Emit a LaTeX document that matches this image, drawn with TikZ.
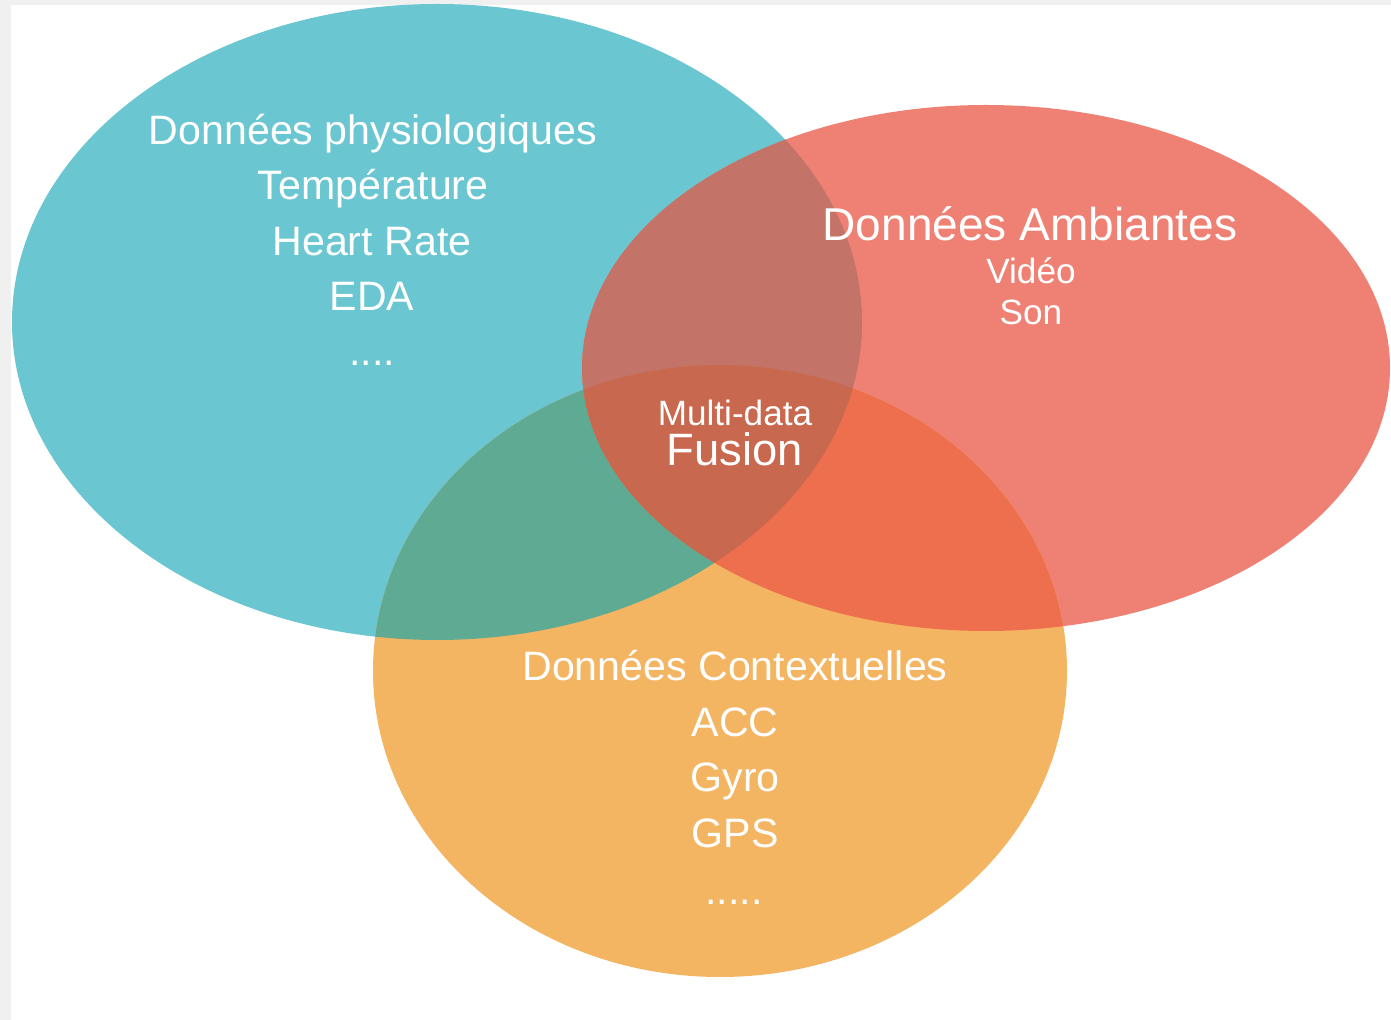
\documentclass[tikz,border=0pt]{standalone}
\usepackage{fontspec}
\setmainfont{Liberation Sans}

\definecolor{bordergray}{HTML}{F0F0F0}
\definecolor{physio}{HTML}{6AC6D0}
\definecolor{ambiant}{HTML}{EE8174}
\definecolor{context}{HTML}{F4B563}
\definecolor{physioambiant}{HTML}{C37367}
\definecolor{physiocontext}{HTML}{5FAA92}
\definecolor{ambiantcontext}{HTML}{EE6F4E}
\definecolor{fusion}{HTML}{C8684F}

\tikzset{
  txt/.style={text=white, inner sep=0pt, anchor=base},
  big/.style={txt, font=\fontsize{13.1}{15}\selectfont},
  mid/.style={txt, font=\fontsize{11.7}{14}\selectfont},
  small/.style={txt, font=\fontsize{10}{12}\selectfont},
}

\def\physiopath{(4.37,-3.22) ellipse [x radius=4.25, y radius=3.18]}
\def\ambiantpath{(9.86,-3.68) ellipse [x radius=4.04, y radius=2.63]}
\def\contextpath{(7.20,-6.71) ellipse [x radius=3.47, y radius=3.06]}

\begin{document}
\begin{tikzpicture}
      \useasboundingbox (0,0) rectangle (13.91,-10.20);
      \fill[bordergray] (0,0) rectangle (13.91,-0.05);
      \fill[bordergray] (0,0) rectangle (0.11,-10.20);

      \fill[physio] \physiopath;
      \fill[ambiant] \ambiantpath;
      \fill[context] \contextpath;
      \begin{scope}
        \clip \physiopath;
        \fill[physioambiant] \ambiantpath;
        \fill[physiocontext] \contextpath;
      \end{scope}
      \begin{scope}
        \clip \ambiantpath;
        \fill[ambiantcontext] \contextpath;
      \end{scope}
      \begin{scope}
        \clip \physiopath;
        \clip \ambiantpath;
        \fill[fusion] \contextpath;
      \end{scope}

      % physiological data
      \node[mid] (physio) at (3.73,-1.45) {Données physiologiques};
      \node[mid] (temp) at (3.73,-2.00) {Température};
      \node[mid] (hr) at (3.72,-2.56) {Heart Rate};
      \node[mid] (eda) at (3.72,-3.11) {EDA};
      \node[mid] (physiodots) at (3.72,-3.66) {....};

      % ambient data
      \node[big] (ambiant) at (10.30,-2.41) {Données Ambiantes};
      \node[small] (video) at (10.31,-2.84) {Vidéo};
      \node[small] (son) at (10.31,-3.25) {Son};

      % middle
      \node[small] (multi) at (7.35,-4.26) {Multi-data};
      \node[txt, font=\fontsize{12.9}{15}\selectfont] (fusion) at (7.35,-4.66) {Fusion};

      % contextual data
      \node[mid] (context) at (7.35,-6.81) {Données Contextuelles};
      \node[mid] (acc) at (7.35,-7.37) {ACC};
      \node[mid] (gyro) at (7.35,-7.92) {Gyro};
      \node[mid] (gps) at (7.35,-8.48) {GPS};
      \node[mid] (contextdots) at (7.34,-9.05) {.....};
    \end{tikzpicture}
\end{document}
